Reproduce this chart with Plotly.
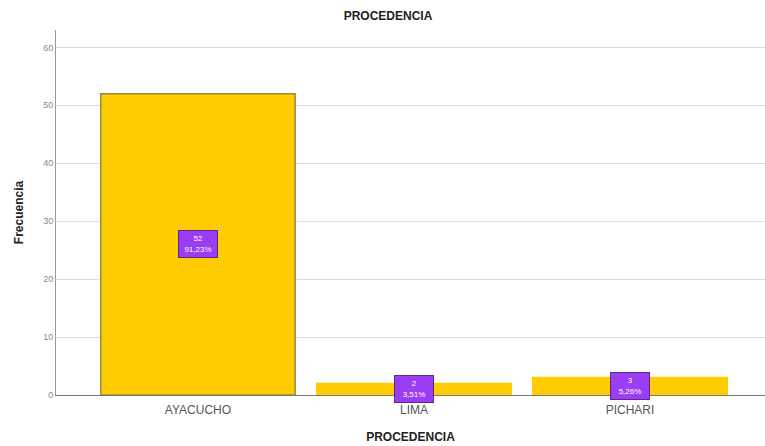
import plotly.graph_objects as go

# Frequency of respondents by place of origin
categorias = ["AYACUCHO", "LIMA", "PICHARI"]
frecuencias = [52, 2, 3]
porcentajes = ["91,23%", "3,51%", "5,26%"]

bar_color = "#FFCC00"
label_bg = "#9B3DF2"

fig = go.Figure()
fig.add_trace(go.Bar(
    x=categorias,
    y=frecuencias,
    width=0.9,
    marker=dict(color=bar_color,
                line=dict(color=["#9C8A3C", bar_color, bar_color], width=1.5)),
    hoverinfo="x+y",
))

# Count / percent boxes at mid-height of each bar
for cat, val, pct in zip(categorias, frecuencias, porcentajes):
    fig.add_annotation(
        x=cat, y=val / 2, xref="x", yref="y",
        text=f"{val}<br>{pct}",
        showarrow=False,
        font=dict(family="Liberation Sans, Arial", size=8, color="white"),
        bgcolor=label_bg, bordercolor="#5A2A8A", borderwidth=1,
        borderpad=2, width=34, height=22, align="center",
    )

fig.update_layout(
    width=765, height=446,
    margin=dict(l=56, r=0, t=30, b=51),
    paper_bgcolor="white", plot_bgcolor="white",
    showlegend=False,
    font=dict(family="Liberation Sans, Arial", color="#333"),
    title=dict(text="<b>PROCEDENCIA</b>", x=388 / 765, xref="container",
               xanchor="center", y=1 - 16 / 446, yref="container", yanchor="middle",
               font=dict(size=12, color="#222")),
    bargap=0.1,
)

fig.update_xaxes(
    range=[-0.657, 2.625],
    showline=True, linecolor="#777", linewidth=1,
    showgrid=False, ticks="",
    ticklabelstandoff=4,
    tickfont=dict(size=12, color="#555"),
    title=dict(text="<b>PROCEDENCIA</b>", font=dict(size=12, color="#222"), standoff=16),
)
fig.update_yaxes(
    range=[0, 63],
    tickvals=[0, 10, 20, 30, 40, 50, 60],
    showline=True, linecolor="#999", linewidth=1,
    showgrid=True, gridcolor="#DDDDDD", gridwidth=1,
    zeroline=False, ticks="",
    tickfont=dict(size=9, color="#888"),
    title=dict(text="<b>Frecuencia</b>", font=dict(size=12, color="#222"), standoff=16),
)

fig.write_html("out.html")
